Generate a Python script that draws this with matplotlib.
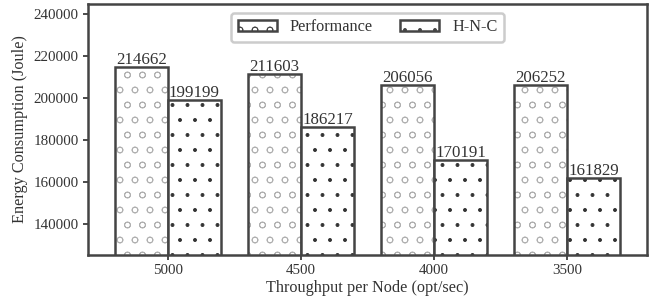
import numpy as np
import matplotlib
matplotlib.use("Agg")
import matplotlib.pyplot as plt
import matplotlib.patches as mpatches

plt.rcParams["font.family"] = ["Liberation Serif", "DejaVu Serif"]
plt.rcParams["hatch.linewidth"] = 0.7

throughput = ["5000", "4500", "4000", "3500"]
performance = [214662, 211603, 206056, 206252]
hnc = [199199, 186217, 170191, 161829]

EDGE = "#444444"
TXT = "#333333"
DPI = 90

fig = plt.figure(figsize=(660 / DPI, 302 / DPI), dpi=DPI)
ax = fig.add_axes([88 / 660, 47 / 302, (647 - 88) / 660, (298 - 47) / 302])

x = np.arange(len(throughput))
w = 0.4
series = [
    ("Performance", performance, -w / 2, "o", "#b0b0b0"),
    ("H-N-C", hnc, w / 2, ".", "#333333"),
]
handles = []
for name, vals, off, hatch, hcol in series:
    # hatch layer (hatch takes the edge colour), then the outline on top
    ax.bar(x + off, vals, w, color="white", hatch=hatch, edgecolor=hcol, linewidth=0)
    bars = ax.bar(x + off, vals, w, fill=False, edgecolor=EDGE, linewidth=2)
    for b, v in zip(bars, vals):
        ax.text(b.get_x() + b.get_width() / 2, v - 400, str(v), ha="center",
                va="bottom", fontsize=13.5, color=TXT)
    handles.append(mpatches.Patch(facecolor="white", edgecolor=EDGE, hatch=hatch,
                                  linewidth=2, label=name))

ax.set_xlim(-0.6, 3.6)
ax.set_ylim(125000, 245000)
ax.set_yticks(range(140000, 240001, 20000))
ax.set_xticks(x)
ax.set_xticklabels(throughput)
ax.tick_params(colors=EDGE, labelcolor=TXT, labelsize=12, width=1.5, length=4)
for s in ax.spines.values():
    s.set_color(EDGE)
    s.set_linewidth(2)

ax.set_xlabel("Throughput per Node (opt/sec)", fontsize=13, color=TXT, labelpad=2)
ax.set_ylabel("Energy Consumption (Joule)", fontsize=13, color=TXT, labelpad=4)

leg = ax.legend(handles=handles, loc="upper center", ncol=2, fontsize=13,
                fancybox=True, framealpha=1, edgecolor="#cccccc",
                borderaxespad=0.55, columnspacing=1.7, handlelength=2.4,
                handleheight=0.7, handletextpad=0.8, borderpad=0.4)
leg.get_frame().set_linewidth(2)
for t in leg.get_texts():
    t.set_color(TXT)

fig.savefig("out.png", dpi=DPI)
